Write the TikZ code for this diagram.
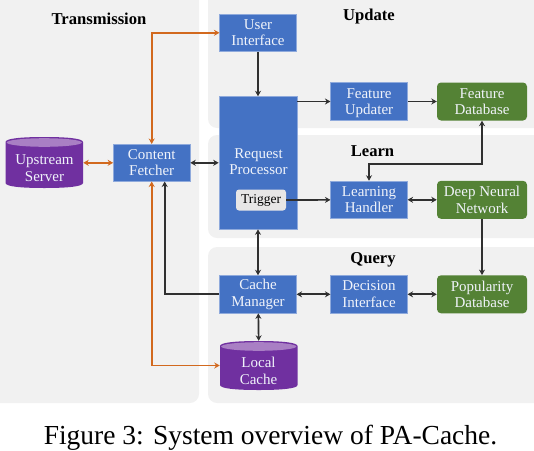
\documentclass[tikz,border=0pt]{standalone}
\usepackage{fontspec}
\setmainfont{Liberation Serif}
\usetikzlibrary{arrows.meta}
\definecolor{panelc}{HTML}{F1F1F1}
\definecolor{bluec}{HTML}{4472C4}
\definecolor{blueb}{HTML}{8FAADC}
\definecolor{greenc}{HTML}{548235}
\definecolor{purplec}{HTML}{7030A0}
\definecolor{purplet}{HTML}{A97FC4}
\definecolor{orangec}{HTML}{D2691E}
\definecolor{darkc}{HTML}{303030}
\definecolor{trigc}{HTML}{E7E6E6}
\definecolor{textc}{HTML}{F0F3FA}
\tikzset{
  x=1pt,y=-1pt,
  panel/.style={fill=panelc,draw=none,rounded corners=9pt},
  box/.style={font=\fontsize{15}{16.5}\selectfont,align=center,text=textc,inner sep=0pt},
  bluebox/.style={box,rectangle,fill=bluec,draw=blueb,line width=0.6pt,minimum width=76.5pt,minimum height=37.5pt},
  greenbox/.style={box,rectangle,rounded corners=4pt,fill=greenc,minimum width=90pt,minimum height=38pt},
  cyltext/.style={box,rectangle,minimum width=77.5pt},
  title/.style={font=\fontsize{16.6}{18}\selectfont\bfseries,inner sep=0pt},
  tips/.style={{Stealth[length=5.5pt,width=6pt]}-{Stealth[length=5.5pt,width=6pt]}},
  tip/.style={-{Stealth[length=5.5pt,width=6pt]}},
  blk/.style={draw=darkc,line width=1.7pt,tips},
  blkone/.style={draw=darkc,line width=1.7pt,tip},
  orgtwo/.style={draw=orangec,line width=1.7pt,tips},
}
\begin{document}
\begin{tikzpicture}
\useasboundingbox (0,0) rectangle (534,450);
% panels
\fill[panel] (-12,-12) rectangle (199,403);
\fill[panel] (208,-12) rectangle (546,128);
\fill[panel] (208,135) rectangle (546,238);
\fill[panel] (208,247) rectangle (546,403);
% titles
\node[title] (tT) at (99,19) {Transmission};
\node[title] (tU) at (369,17) {Update};
\node[title] (tL) at (372.5,151) {Learn};
\node[title] (tQ) at (373,260) {Query};
% cylinders: body and lid
\foreach \xa/\xb/\ya/\yb in {5.5/83/137/188, 220/297.5/341/390}{
  \pgfmathsetmacro{\xr}{(\xb-\xa)/2}
  \pgfmathsetmacro{\xm}{(\xb+\xa)/2}
  \fill[purplec] (\xa,\ya+5) -- (\xa,\yb-5) .. controls (\xa,\yb-1.5) and (\xm-\xr*0.6,\yb) .. (\xm,\yb) .. controls (\xm+\xr*0.6,\yb) and (\xb,\yb-1.5) .. (\xb,\yb-5) -- (\xb,\ya+5) .. controls (\xb,\ya+1.5) and (\xm+\xr*0.6,\ya) .. (\xm,\ya) .. controls (\xm-\xr*0.6,\ya) and (\xa,\ya+1.5) .. (\xa,\ya+5) -- cycle;
  \fill[purplet] (\xm,\ya+5.5) ellipse[x radius=\xr-1.2,y radius=4.3];
}
% boxes
\node[bluebox] (ui) at (258,32.8) {User\\Interface};
\node[bluebox,minimum width=78pt,minimum height=132.5pt] (rp) at (258,162.8) {};
\node[box] (rpt) at (258.5,161.5) {Request\\Processor};
\node[box,rectangle,rounded corners=3pt,fill=trigc,text=black,minimum width=50pt,minimum height=21pt,font=\fontsize{13.5}{15}\selectfont] (trig) at (261,200) {Trigger};
\node[bluebox,text depth=0pt] (fu) at (369,101.5) {Feature\\Updater};
\node[greenbox] (fd) at (482,101.5) {Feature\\Database};
\node[bluebox] (lh) at (369,199.8) {Learning\\Handler};
\node[greenbox] (dn) at (482,199.8) {Deep Neural\\Network};
\node[bluebox] (cf) at (151.7,162.8) {Content\\Fetcher};
\node[bluebox] (cm) at (258,294.3) {Cache\\Manager};
\node[bluebox] (di) at (369,294.3) {Decision\\Interface};
\node[greenbox] (pd) at (482,294.3) {Popularity\\Database};
\node[cyltext,minimum height=51pt] (us) at (44.3,162.5) {};
\node[box] (ust) at (44.5,168) {Upstream\\Server};
\node[cyltext,minimum height=49pt] (lc) at (258.7,365.5) {};
\node[box] (lct) at (258.5,371) {Local\\Cache};
% helper coordinates on box edges
\coordinate (cfb) at (151.7,181.5);
\coordinate (cft) at (151.7,144);
\coordinate (cfb2) at (164.7,181.5);
\coordinate (bend) at (369,163.8);
% connectors
\draw[blkone] (ui) -- (ui |- rp.north);
\draw[blkone] (rp.east |- fu) -- (fu);
\draw[blkone] (fu) -- (fd);
\draw[blkone] (trig) -- (lh);
\draw[blk] (lh) -- (dn);
\draw[blk] (cf) -- (cf -| rp.west);
\draw[blk] (rp.south -| cm) -- (cm);
\draw[blk] (cm) -- (lc.north);
\draw[blk] (cm) -- (di);
\draw[blk] (di) -- (pd);
\draw[blkone] (dn) -- (pd);
\draw[blkone] (cm.west) -| (cfb2);
\draw[blk] (fd.south) |- (bend) -- (lh.north);
\draw[orgtwo] (us.east |- cf) -- (cf);
\draw[orgtwo] (cft) |- (ui.west);
\draw[orgtwo] (cfb) |- (lc.west);
% caption
\node[inner sep=0pt,font=\fontsize{27.5}{30}\selectfont] (cap) at (270.5,437.5) {Figure 3: System overview of PA-Cache.};
\end{tikzpicture}
\end{document}
